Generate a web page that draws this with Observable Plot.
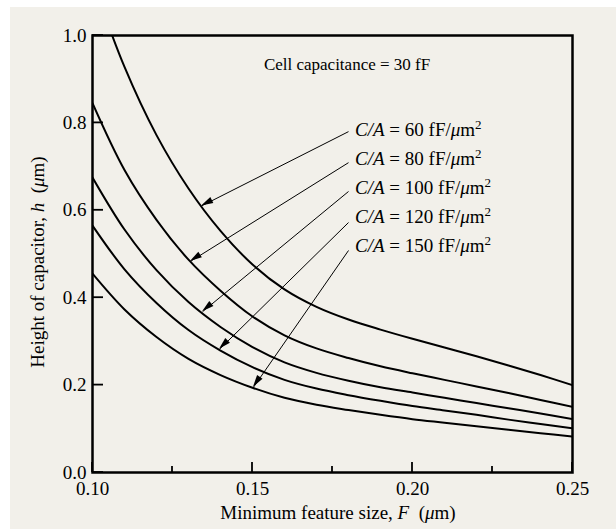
<!DOCTYPE html>
<html><head><meta charset="utf-8">
<script src="https://cdn.jsdelivr.net/npm/d3@7"></script>
<script src="https://cdn.jsdelivr.net/npm/@observablehq/plot@0.6"></script>
<style>
html,body{margin:0;padding:0;background:#fff;}
#bg{position:absolute;left:10px;top:7px;width:606px;height:522px;background:#f2f0ea;}
#chart{position:absolute;left:0;top:0;}
</style></head><body><div id="bg"></div><div id="chart"></div>
<script>
// Minimum feature size F (µm)
const F = [0.10,0.11,0.12,0.13,0.14,0.15,0.16,0.17,0.18,0.19,0.20,0.21,0.22,0.23,0.24,0.25];
// Height of capacitor h (µm) for each C/A (fF/µm²)
const h60  = [1.125,0.928,0.772,0.650,0.553,0.476,0.419,0.379,0.350,0.327,0.306,0.286,0.266,0.245,0.223,0.200];
const h80  = [0.845,0.692,0.578,0.487,0.416,0.357,0.314,0.284,0.262,0.243,0.227,0.212,0.197,0.182,0.166,0.150];
const h100 = [0.675,0.556,0.463,0.390,0.333,0.287,0.252,0.228,0.210,0.195,0.183,0.171,0.159,0.147,0.135,0.122];
const h120 = [0.565,0.465,0.388,0.326,0.279,0.241,0.212,0.192,0.177,0.164,0.152,0.142,0.132,0.121,0.111,0.101];
const h150 = [0.455,0.373,0.310,0.260,0.223,0.194,0.171,0.155,0.143,0.132,0.122,0.114,0.106,0.098,0.090,0.082];
const caValues = ["60","80","100","120","150"];
const hSeries = [h60,h80,h100,h120,h150];

// annotation anchors (data units)
const labelF = 0.1822;
const labelH = [0.768,0.702,0.636,0.570,0.503];
const arrowStartF = [0.18,0.18,0.18,0.18,0.18];
const arrowStartH = [0.780,0.709,0.643,0.572,0.508];
const arrowTipF = [0.1341,0.1306,0.1344,0.1397,0.1503];
const arrowTipH = [0.610,0.483,0.368,0.282,0.195];
const noteF = 0.1797, noteH = 0.919;
const noteText = "Cell capacitance = 30 fF";

// ticks
const xMajor = [0.10,0.15,0.20,0.25];
const xMinor = [0.125,0.175,0.225];
const yMajor = [0.0,0.2,0.4,0.6,0.8,1.0];

const rows = caValues.flatMap((ca,s) => F.map((f,i) => ({F:f, h:hSeries[s][i], ca})));
const arrows = caValues.map((ca,i) => ({ca, x1:arrowStartF[i], y1:arrowStartH[i], x2:arrowTipF[i], y2:arrowTipH[i]}));

const FONT = "'Liberation Serif', 'Times New Roman', serif";
const plot = Plot.plot({
  width: 616, height: 529,
  marginLeft: 92, marginRight: 44, marginTop: 35, marginBottom: 57,
  style: {background: "transparent", fontFamily: FONT, fontSize: "19px", color: "#000"},
  x: {domain: [0.10, 0.25]},
  y: {domain: [0, 1]},
  marks: [
    Plot.line(rows, {x:"F", y:"h", z:"ca", stroke:"#000", strokeWidth:2, curve:"catmull-rom", clip:true}),
    Plot.axisX({ticks: xMajor, tickFormat: d3.format(".2f"), tickSize: 0, tickPadding: 9, label: null, fontSize: 19, fontFamily: FONT}),
    Plot.axisY({ticks: yMajor, tickFormat: d3.format(".1f"), tickSize: 0, tickPadding: 6, label: null, fontSize: 19, fontFamily: FONT}),
    Plot.link(arrows, {x1:"x1", y1:"y1", x2:"x2", y2:"y2", stroke:"#000", strokeWidth:1}),
    Plot.frame({stroke:"#000", strokeWidth:2.5})
  ]
});
document.getElementById("chart").appendChild(plot);

const sx = plot.scale("x"), sy = plot.scale("y");
const svg = d3.select(plot);
const y0 = sy.apply(0), x0 = sx.apply(0.10);

// inward ticks
const tg = svg.append("g").attr("stroke", "#000").attr("stroke-width", 1.8);
xMajor.forEach(v => tg.append("line").attr("x1", sx.apply(v)).attr("x2", sx.apply(v)).attr("y1", y0).attr("y2", y0 - 10));
xMinor.forEach(v => tg.append("line").attr("x1", sx.apply(v)).attr("x2", sx.apply(v)).attr("y1", y0).attr("y2", y0 - 6));
yMajor.forEach(v => tg.append("line").attr("x1", x0).attr("x2", x0 + 11).attr("y1", sy.apply(v)).attr("y2", sy.apply(v)));

// arrowheads
arrows.forEach(a => {
  const x1 = sx.apply(a.x1), y1 = sy.apply(a.y1), x2 = sx.apply(a.x2), y2 = sy.apply(a.y2);
  const dx = x2 - x1, dy = y2 - y1, L = Math.hypot(dx, dy);
  const ux = dx / L, uy = dy / L, nx = -uy, ny = ux;
  const len = 12, half = 3.3;
  const bx = x2 - ux * len, by = y2 - uy * len;
  svg.append("path")
    .attr("d", `M${x2},${y2}L${bx + nx*half},${by + ny*half}L${bx - nx*half},${by - ny*half}Z`)
    .attr("fill", "#000");
});

// C/A labels
caValues.forEach((ca, i) => {
  const t = svg.append("text")
    .attr("x", sx.apply(labelF)).attr("y", sy.apply(labelH[i]))
    .attr("text-anchor", "start").attr("font-family", FONT)
    .attr("font-size", 19).attr("fill", "#000").style("white-space", "pre");
  t.append("tspan").attr("font-style", "italic").text("C/A");
  t.append("tspan").text(` = ${ca} fF/`);
  t.append("tspan").attr("font-style", "italic").text("\u03bc");
  t.append("tspan").text("m");
  t.append("tspan").attr("font-size", 13).attr("dy", "-0.55em").text("2");
});

// note
svg.append("text")
  .attr("x", sx.apply(noteF)).attr("y", sy.apply(noteH))
  .attr("text-anchor", "middle").attr("font-family", FONT).attr("font-size", 17).attr("fill", "#000")
  .text(noteText);

// x axis title
const xt = svg.append("text").attr("x", 338).attr("y", 519)
  .attr("text-anchor", "middle").attr("font-family", FONT).attr("font-size", 19).attr("fill", "#000").style("white-space", "pre");
xt.append("tspan").text("Minimum feature size, ");
xt.append("tspan").attr("font-style", "italic").text("F");
xt.append("tspan").text("  (");
xt.append("tspan").attr("font-style", "italic").text("\u03bc");
xt.append("tspan").text("m)");

// y axis title
const yt = svg.append("text").attr("transform", "translate(43.5,262) rotate(-90)")
  .attr("text-anchor", "middle").attr("font-family", FONT).attr("font-size", 19).attr("fill", "#000").style("white-space", "pre");
yt.append("tspan").text("Height of capacitor, ");
yt.append("tspan").attr("font-style", "italic").text("h");
yt.append("tspan").text("  (");
yt.append("tspan").attr("font-style", "italic").text("\u03bc");
yt.append("tspan").text("m)");
</script>
</body></html>
